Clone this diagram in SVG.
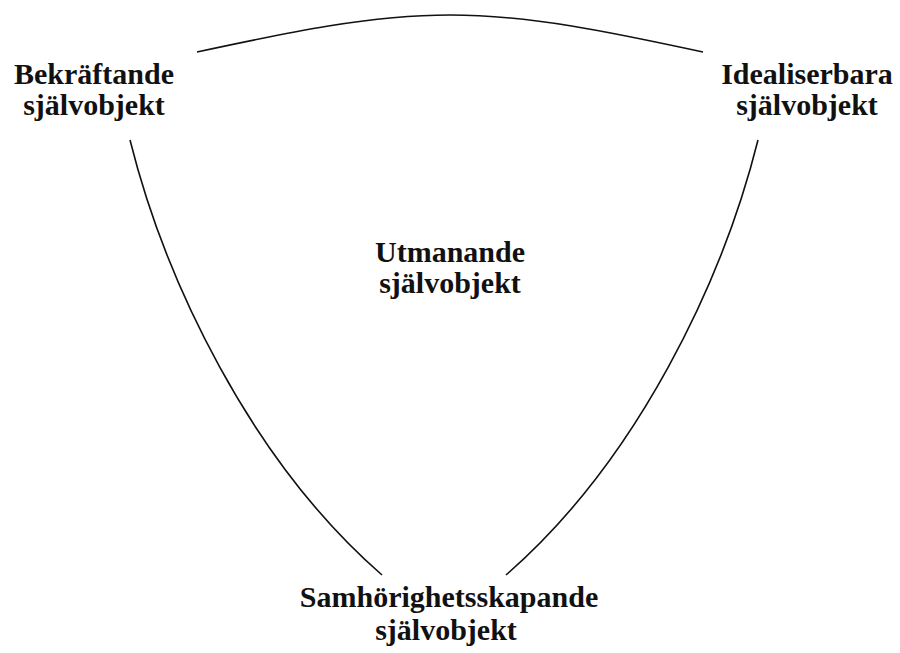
<svg xmlns="http://www.w3.org/2000/svg" width="900" height="653" viewBox="0 0 900 653">
<style>
.lbl{font-family:"Liberation Serif","Times New Roman",serif;font-weight:bold;font-size:30px;fill:#111;text-anchor:middle}
.edge{fill:none;stroke:#111;stroke-width:1.6}
</style>
<rect width="900" height="653" fill="#fff"/>
<g id="connectors">
<path class="edge" d="M197,52 C290,32 370,15 450,15 C530,15 610,32 703,52"/>
<path class="edge" d="M130,140 C165,280 250,460 382,575"/>
<path class="edge" d="M758,140 C723,280 638,460 506,575"/>
</g>
<g id="bekraftande"><text class="lbl" x="94" y="84">Bekräftande</text><text class="lbl" x="94" y="115">självobjekt</text></g>
<g id="idealiserbara"><text class="lbl" x="807" y="84">Idealiserbara</text><text class="lbl" x="807" y="115">självobjekt</text></g>
<g id="utmanande"><text class="lbl" x="450" y="262">Utmanande</text><text class="lbl" x="450" y="293">självobjekt</text></g>
<g id="samhorighetsskapande"><text class="lbl" x="449" y="607">Samhörighetsskapande</text><text class="lbl" x="446" y="640">självobjekt</text></g>
</svg>
